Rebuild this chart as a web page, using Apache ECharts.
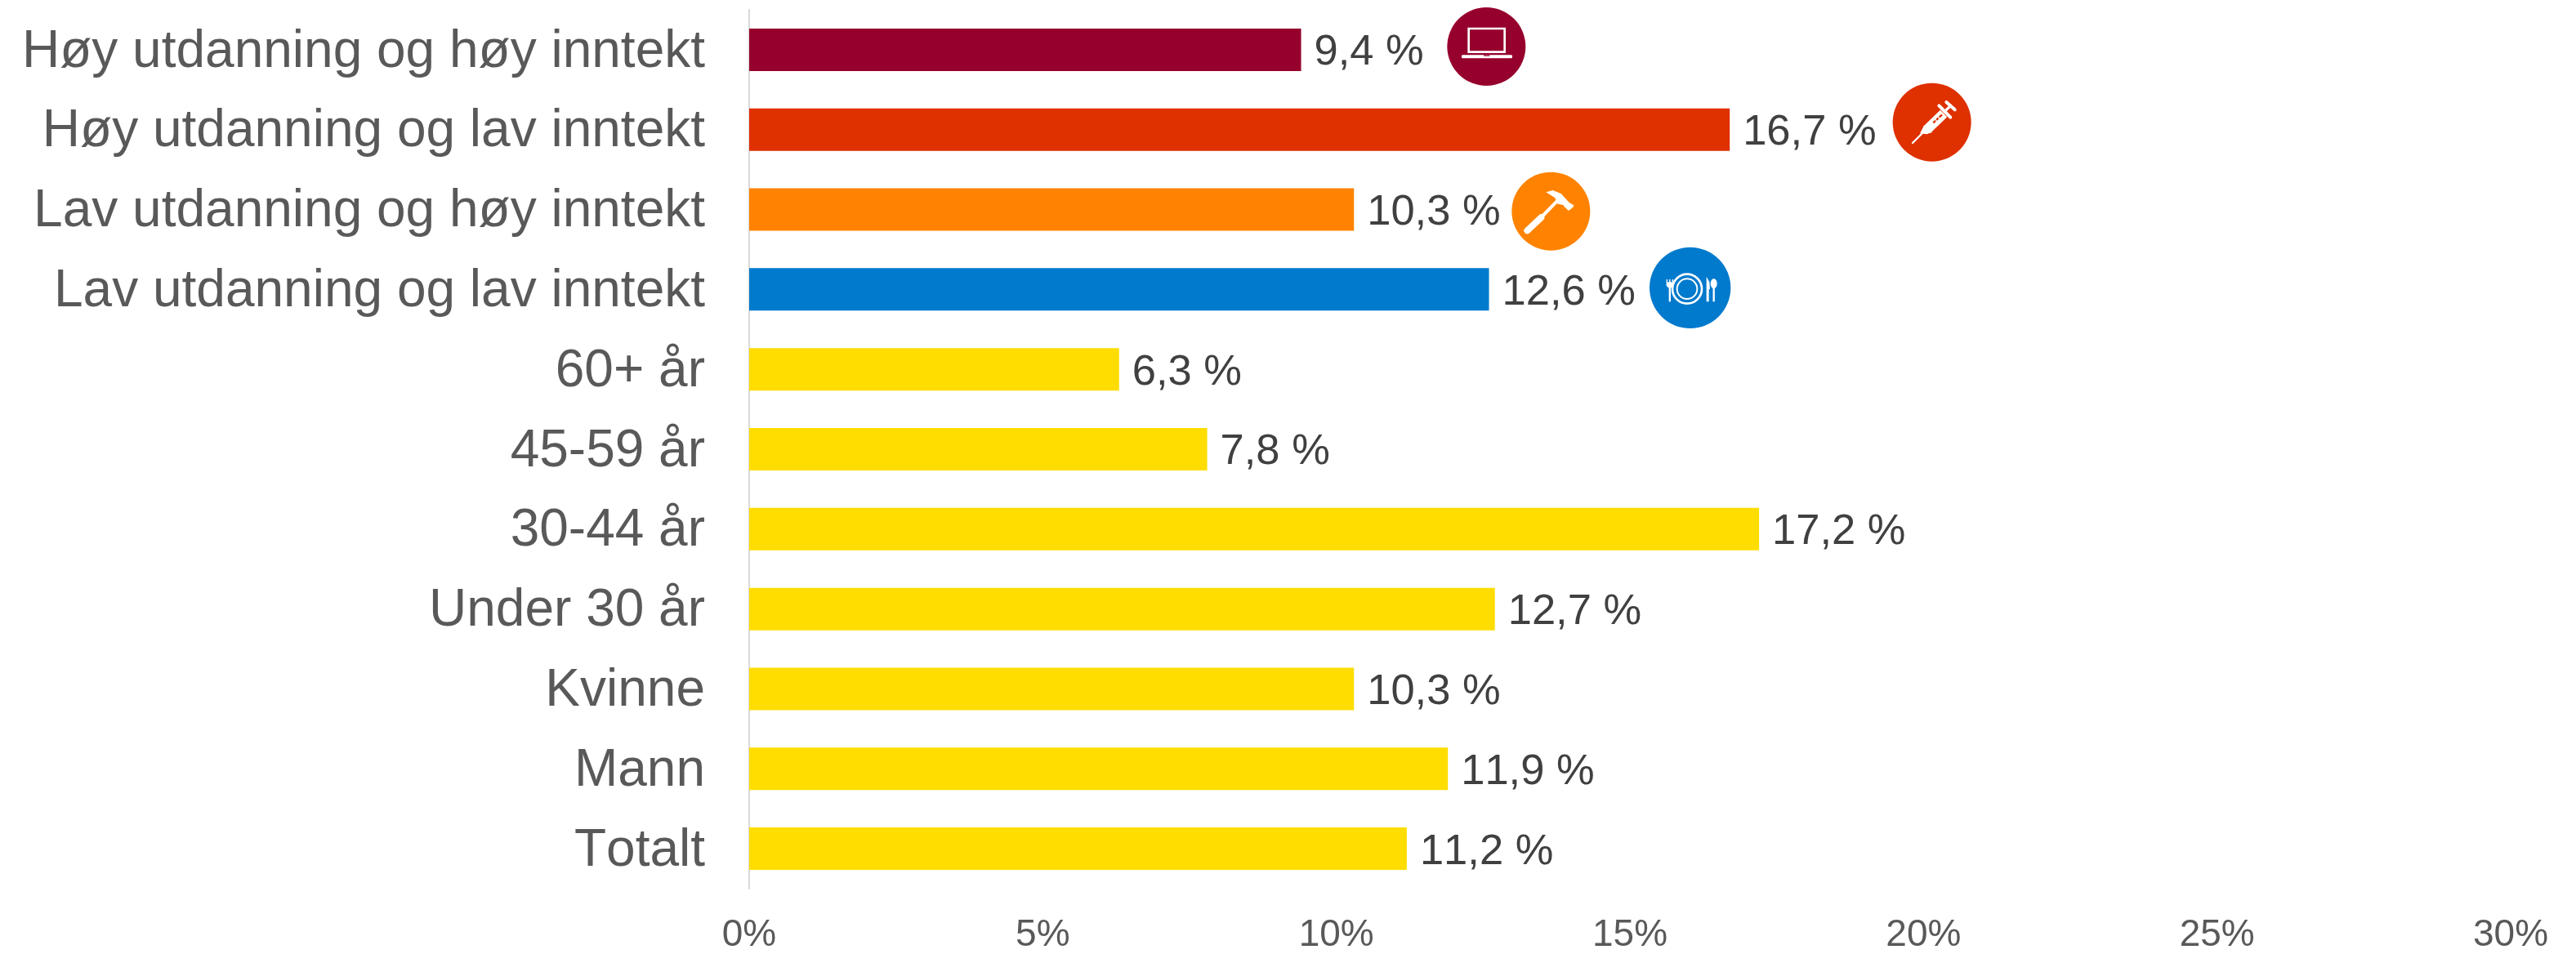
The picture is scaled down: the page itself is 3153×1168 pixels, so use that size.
<!DOCTYPE html>
<html><head><meta charset="utf-8">
<style>html,body{margin:0;padding:0;background:#fff}#c{width:3153px;height:1168px}</style>
<script src="https://cdn.jsdelivr.net/npm/echarts@6/dist/echarts.min.js"></script>
</head><body><div id="c"></div>
<script>
const categories = ['Høy utdanning og høy inntekt','Høy utdanning og lav inntekt','Lav utdanning og høy inntekt','Lav utdanning og lav inntekt','60+ år','45-59 år','30-44 år','Under 30 år','Kvinne','Mann','Totalt'];
const values = [9.4,16.7,10.3,12.6,6.3,7.8,17.2,12.7,10.3,11.9,11.2];
const barColors = ['#96002D','#DF3000','#FF8300','#007ACD','#FFDD00','#FFDD00','#FFDD00','#FFDD00','#FFDD00','#FFDD00','#FFDD00'];
const FONT = '"Liberation Sans", Arial, sans-serif';
const W = '#fff';
// The reference text is set without pair kerning ("Totalt" is wider than the kerned form).
const origGetContext = HTMLCanvasElement.prototype.getContext;
HTMLCanvasElement.prototype.getContext = function(type, opts){
  const ctx = origGetContext.call(this, type, opts);
  if (ctx && type === '2d' && 'fontKerning' in ctx) ctx.fontKerning = 'none';
  return ctx;
};
const line = (x1,y1,x2,y2,lw,color=W,cap='round') => ({type:'line',shape:{x1,y1,x2,y2},style:{stroke:color,lineWidth:lw,lineCap:cap}});
const poly = (points,fill=W) => ({type:'polygon',shape:{points},style:{fill}});
const disc = (cx,cy,r,fill) => ({type:'circle',shape:{cx,cy,r},style:{fill}});
const ring = (cx,cy,r,lw) => ({type:'circle',shape:{cx,cy,r},style:{fill:'transparent',stroke:W,lineWidth:lw}});
const icon = (x,y,children) => ({type:'group',x,y,scaleX:1/3,scaleY:1/3,silent:true,children});
const laptop = icon(1760,0,[
  disc(178,171,144,barColors[0]),
  {type:'rect',shape:{x:113,y:105,width:132,height:86},style:{fill:'transparent',stroke:W,lineWidth:8}},
  {type:'rect',shape:{x:87,y:202,width:186,height:12,r:4},style:{fill:W}},
  {type:'rect',shape:{x:168,y:202,width:22,height:4},style:{fill:barColors[0]}}
]);
const syringe = icon(2305,95,[
  disc(179,164,144,barColors[1]),
  line(108,240,150,198,7),
  poly([[135,205],[150,176],[180,200],[160,208]]),
  line(160,192,222,132,36,W,'butt'),
  line(205,103,247,146,12),
  line(225,125,248,103,10),
  line(232,90,263,118,12),
  line(184,166,216,136,7,barColors[1],'butt'),
  line(191,152,197,162,4,W,'butt'),
  line(201,142,207,152,4,W,'butt')
]);
const hammer = icon(1838,203,[
  disc(181,167,144,barColors[2]),
  line(94,238,145,190,24),
  line(140,195,208,125,12,W,'butt'),
  poly([[163,97],[188,90],[218,102],[248,135],[265,145],[262,152],[246,165],[232,152],[226,144],[206,140],[196,118]])
]);
const plate = icon(2009,297,[
  disc(179,166,149,barColors[3]),
  ring(168,170,54,8),
  ring(168,170,37,6),
  line(94,135,94,155,4,W,'butt'),
  line(104.5,135,104.5,155,4,W,'butt'),
  line(115,135,115,155,4,W,'butt'),
  {type:'ellipse',shape:{cx:104.5,cy:155,rx:12.5,ry:11},style:{fill:W}},
  line(104.5,160,104.5,217,7,W,'butt'),
  poly([[239,217],[239,125],[250,145],[252,170],[248,172],[248,217]]),
  {type:'ellipse',shape:{cx:266,cy:151,rx:12,ry:18},style:{fill:W}},
  line(266,160,266,217,7,W,'butt')
]);
const chart = echarts.init(document.getElementById('c'),null,{renderer:'canvas'});
chart.setOption({
  animation:false,
  backgroundColor:'#fff',
  grid:{left:917,top:12,width:2156,height:1078,containLabel:false},
  xAxis:{type:'value',min:0,max:30,interval:5,splitLine:{show:false},axisLine:{show:false},axisTick:{show:false},
    axisLabel:{formatter:'{value}%',color:'#595959',fontFamily:FONT,fontSize:46,margin:34}},
  yAxis:{type:'category',inverse:true,data:categories,axisTick:{show:false},
    axisLine:{show:true,lineStyle:{color:'#D9D9D9',width:2}},
    axisLabel:{fontFamily:FONT,fontSize:64,margin:54,color:'#595959',
      formatter:v=>'{c|'+v+'}',
      rich:{c:{color:'#595959',fontFamily:FONT,fontSize:64,padding:[6,0,0,0]}}}},
  series:[{type:'bar',barWidth:52,
    data:values.map((v,i)=>({value:v,itemStyle:{color:barColors[i]}})),
    label:{show:true,position:'right',distance:16,offset:[0,4],color:'#404040',fontFamily:FONT,fontSize:52.5,
      formatter:p=>String(p.value).replace('.',',')+' %'}}],
  graphic:[laptop,syringe,hammer,plate]
});
</script></body></html>
